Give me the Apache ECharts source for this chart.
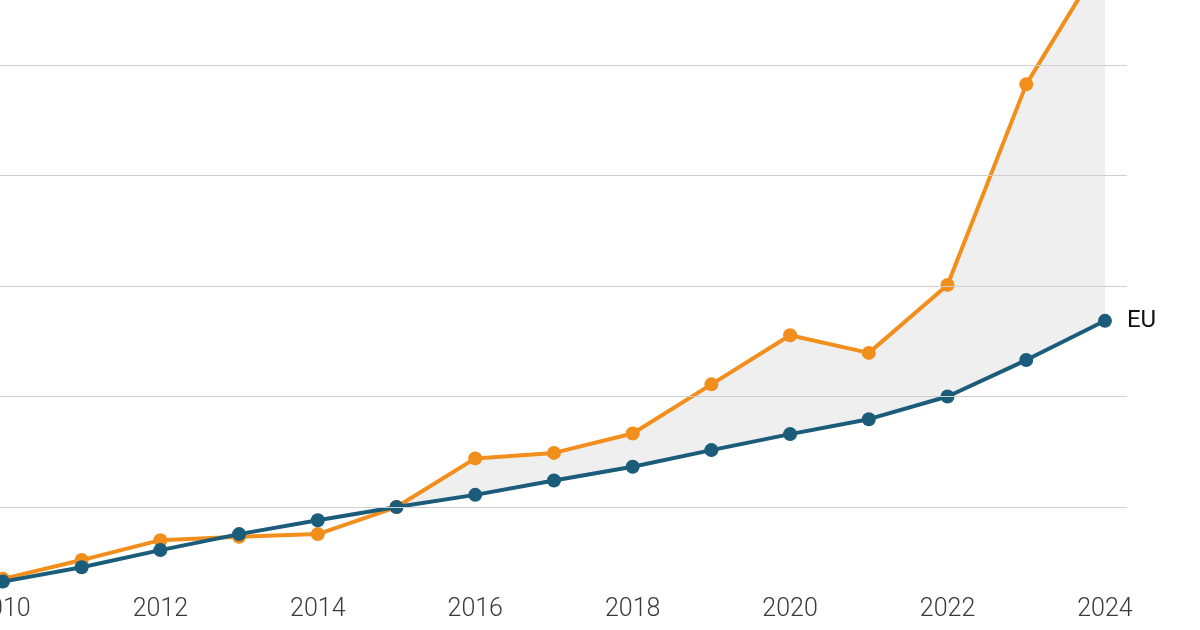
<!DOCTYPE html>
<html>
<head>
<meta charset="utf-8">
<script src="https://cdn.jsdelivr.net/npm/echarts@6/dist/echarts.min.js"></script>
<style>
html,body{margin:0;padding:0;background:#fff;}
#chart{width:1200px;height:630px;}
</style>
</head>
<body>
<div id="chart"></div>
<script>
// ---- data ----
const years = [2010, 2011, 2012, 2013, 2014, 2015, 2016, 2017, 2018, 2019, 2020, 2021, 2022, 2023, 2024];
const euValues = [86.5, 89.1, 92.2, 95.1, 97.6, 100.0, 102.2, 104.8, 107.3, 110.3, 113.2, 115.9, 120.0, 126.6, 133.7];
const otherValues = [87.0, 90.4, 94.0, 94.6, 95.1, 100.0, 108.8, 109.8, 113.3, 122.2, 131.1, 127.9, 140.2, 176.5, 199.8];
const gridValues = [100, 120, 140, 160, 180];
const xTickLabels = [2010, 2012, 2014, 2016, 2018, 2020, 2022, 2024];
const bandStartYear = 2015;
const euLabel = 'EU';

// ---- derived series ----
const euPairs = years.map((y, i) => [y, euValues[i]]);
const otherPairs = years.map((y, i) => [y, otherValues[i]]);
// band data stored as [value, year] so that the stacked dimension is the value
const bandBase = [];
const bandDiff = [];
years.forEach((y, i) => {
  if (y >= bandStartYear) {
    bandBase.push([euValues[i], y]);
    bandDiff.push([+(otherValues[i] - euValues[i]).toFixed(2), y]);
  }
});

const ORANGE = '#F28E1C';
const BLUE = '#1B5C7A';

const chart = echarts.init(document.getElementById('chart'), null, {renderer: 'canvas'});
chart.setOption({
  animation: false,
  backgroundColor: '#ffffff',
  grid: {left: -36.4, right: 73, top: 0, bottom: 40.1, containLabel: false, outerBoundsMode: 'none'},
  xAxis: {
    type: 'value',
    min: 2009.5,
    max: 2024.28,
    interval: 0.5,
    axisLine: {show: false},
    axisTick: {show: false},
    splitLine: {show: false},
    axisLabel: {
      margin: 7,
      fontSize: 25,
      fontFamily: 'Roboto',
      fontWeight: 300,
      color: '#3a3a3a',
      showMinLabel: true,
      showMaxLabel: true,
      formatter: function (v) {
        const r = Math.round(v);
        return (Math.abs(v - r) < 1e-6 && xTickLabels.indexOf(r) >= 0) ? String(r) : '';
      }
    }
  },
  yAxis: {
    type: 'value',
    min: 85,
    max: 191.77,
    axisLine: {show: false},
    axisTick: {show: false},
    axisLabel: {show: false},
    splitLine: {show: false}
  },
  series: [
    {
      name: 'bandBase',
      type: 'line',
      stack: 'band',
      data: bandBase,
      encode: {x: 1, y: 0},
      symbol: 'none',
      lineStyle: {width: 0, opacity: 0},
      silent: true,
      z: 1,
      markLine: {
        silent: true,
        symbol: ['none', 'none'],
        label: {show: false},
        lineStyle: {color: '#cfcfcf', width: 1, type: 'solid'},
        emphasis: {disabled: true},
        data: gridValues.map(v => ({yAxis: v}))
      }
    },
    {
      name: 'bandDiff',
      type: 'line',
      stack: 'band',
      data: bandDiff,
      encode: {x: 1, y: 0},
      symbol: 'none',
      lineStyle: {width: 0, opacity: 0},
      areaStyle: {color: 'rgba(0,0,0,0.062)', opacity: 1},
      silent: true,
      z: 1
    },
    {
      name: 'Other',
      type: 'line',
      data: otherPairs,
      symbol: 'circle',
      symbolSize: 14,
      lineStyle: {color: ORANGE, width: 4},
      itemStyle: {color: ORANGE},
      z: 3
    },
    {
      name: euLabel,
      type: 'line',
      data: euPairs,
      symbol: 'circle',
      symbolSize: 14,
      lineStyle: {color: BLUE, width: 4},
      itemStyle: {color: BLUE},
      z: 4,
      endLabel: {
        show: true,
        formatter: euLabel,
        distance: 22,
        fontSize: 24,
        fontFamily: 'Roboto',
        color: '#111111'
      }
    }
  ]
});
</script>
</body>
</html>
